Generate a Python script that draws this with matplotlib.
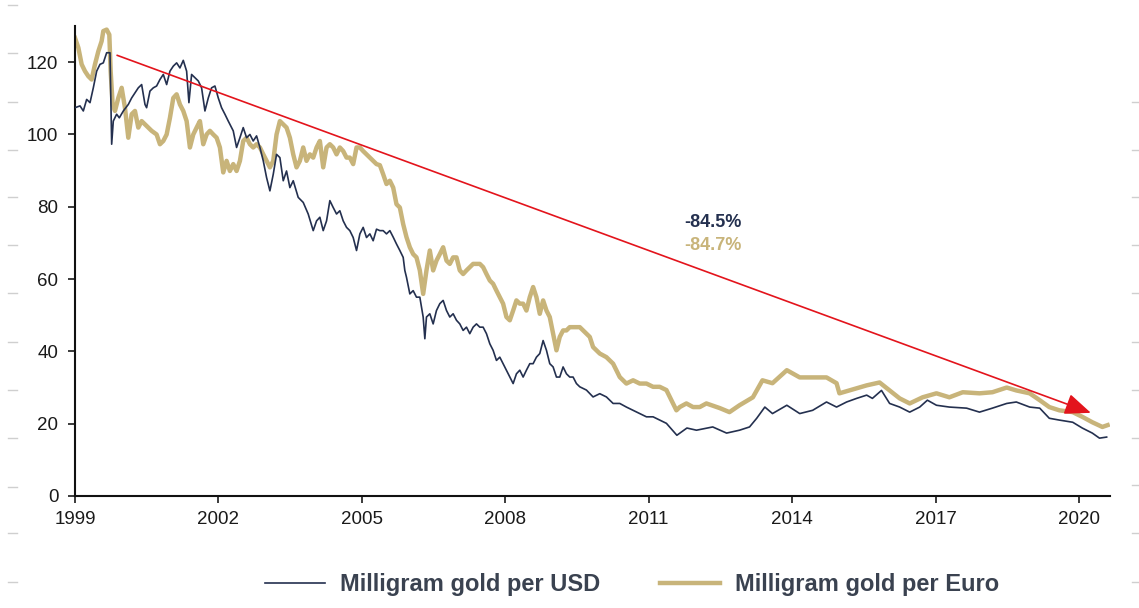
import matplotlib
matplotlib.use("Agg")
import matplotlib.pyplot as plt
from matplotlib.lines import Line2D

# ---- data: (decimal year, milligram of gold) ----
usd_points = [
    (1999.000, 107.4), (1999.105, 107.9), (1999.174, 106.5), (1999.244, 109.7), (1999.314, 108.8),
    (1999.383, 112.9), (1999.453, 117.5), (1999.523, 119.4), (1999.592, 119.8), (1999.662, 122.6),
    (1999.732, 122.6), (1999.767, 97.3), (1999.801, 103.7), (1999.871, 105.6), (1999.927, 104.6),
    (2000.011, 106.5), (2000.115, 108.3), (2000.185, 110.1), (2000.254, 111.5), (2000.324, 112.9),
    (2000.394, 113.8), (2000.464, 108.3), (2000.498, 107.4), (2000.568, 112.0), (2000.638, 112.9),
    (2000.707, 113.4), (2000.777, 115.2), (2000.847, 116.6), (2000.917, 113.8), (2000.986, 117.5),
    (2001.056, 118.9), (2001.126, 119.8), (2001.195, 118.4), (2001.265, 120.5), (2001.335, 117.5),
    (2001.383, 108.8), (2001.439, 116.6), (2001.509, 115.7), (2001.579, 114.8), (2001.648, 112.9),
    (2001.718, 106.5), (2001.788, 110.1), (2001.857, 112.9), (2001.927, 113.4), (2001.997, 110.1),
    (2002.066, 107.4), (2002.136, 105.6), (2002.206, 103.7), (2002.310, 101.0), (2002.380, 96.4),
    (2002.450, 99.1), (2002.519, 101.9), (2002.589, 99.1), (2002.659, 100.0), (2002.728, 98.2),
    (2002.798, 99.6), (2002.868, 96.4), (2002.938, 92.7), (2003.007, 88.1), (2003.077, 84.4),
    (2003.147, 89.0), (2003.216, 94.5), (2003.286, 93.6), (2003.356, 87.2), (2003.425, 89.9),
    (2003.495, 85.3), (2003.565, 87.2), (2003.669, 82.6), (2003.774, 81.2), (2003.878, 78.0),
    (2003.983, 73.4), (2004.053, 76.1), (2004.122, 77.1), (2004.192, 73.4), (2004.262, 76.1),
    (2004.331, 81.7), (2004.401, 79.8), (2004.471, 78.0), (2004.540, 78.9), (2004.610, 76.1),
    (2004.680, 74.3), (2004.749, 73.4), (2004.819, 71.5), (2004.889, 67.9), (2004.959, 72.5),
    (2005.028, 74.3), (2005.098, 71.5), (2005.168, 72.5), (2005.237, 70.6), (2005.307, 73.8),
    (2005.377, 73.4), (2005.446, 73.4), (2005.516, 72.5), (2005.586, 73.4), (2005.656, 71.6),
    (2005.725, 69.7), (2005.795, 67.9), (2005.865, 66.0), (2005.899, 62.4), (2005.934, 60.5),
    (2006.004, 55.9), (2006.074, 56.8), (2006.143, 55.0), (2006.213, 55.0), (2006.283, 49.5),
    (2006.318, 43.5), (2006.352, 49.5), (2006.422, 50.4), (2006.492, 47.6), (2006.561, 51.3),
    (2006.631, 53.2), (2006.701, 54.1), (2006.771, 51.3), (2006.840, 49.5), (2006.910, 50.4),
    (2006.980, 48.6), (2007.049, 47.6), (2007.119, 45.8), (2007.189, 46.7), (2007.258, 44.9),
    (2007.328, 46.7), (2007.398, 47.6), (2007.468, 46.7), (2007.537, 46.7), (2007.607, 44.9),
    (2007.677, 42.1), (2007.746, 40.3), (2007.816, 37.5), (2007.886, 38.4), (2007.955, 36.6),
    (2008.025, 34.8), (2008.095, 32.9), (2008.165, 31.1), (2008.234, 33.8), (2008.304, 34.8),
    (2008.374, 32.9), (2008.443, 34.8), (2008.513, 36.6), (2008.583, 36.6), (2008.652, 38.4),
    (2008.722, 39.4), (2008.792, 43.0), (2008.862, 40.3), (2008.931, 36.6), (2009.001, 35.7),
    (2009.071, 32.9), (2009.140, 32.9), (2009.210, 35.7), (2009.280, 33.8), (2009.349, 32.9),
    (2009.419, 32.9), (2009.489, 31.1), (2009.559, 30.2), (2009.698, 29.3), (2009.837, 27.4),
    (2009.977, 28.3), (2010.116, 27.4), (2010.256, 25.6), (2010.395, 25.6), (2010.534, 24.6),
    (2010.674, 23.7), (2010.813, 22.8), (2010.953, 21.9), (2011.092, 21.9), (2011.231, 21.0),
    (2011.371, 20.1), (2011.590, 16.8), (2011.800, 18.8), (2012.000, 18.2), (2012.340, 19.1),
    (2012.630, 17.4), (2012.900, 18.2), (2013.110, 19.1), (2013.260, 21.5), (2013.430, 24.6),
    (2013.590, 22.8), (2013.890, 25.1), (2014.160, 22.8), (2014.430, 23.7), (2014.720, 26.0),
    (2014.930, 24.6), (2015.140, 26.0), (2015.350, 27.0), (2015.560, 27.9), (2015.680, 27.0),
    (2015.870, 29.2), (2016.040, 25.6), (2016.250, 24.6), (2016.460, 23.2), (2016.670, 24.6),
    (2016.830, 26.5), (2017.020, 25.1), (2017.290, 24.6), (2017.650, 24.3), (2017.920, 23.2),
    (2018.190, 24.3), (2018.490, 25.6), (2018.690, 26.0), (2018.970, 24.6), (2019.180, 24.3),
    (2019.380, 21.5), (2019.590, 21.0), (2019.870, 20.4), (2020.070, 18.8), (2020.280, 17.4),
    (2020.430, 16.0), (2020.580, 16.3),
]

eur_points = [
    (1999.000, 126.7), (1999.070, 124.0), (1999.139, 119.4), (1999.209, 117.5), (1999.279, 116.1),
    (1999.348, 115.2), (1999.418, 119.4), (1999.488, 123.0), (1999.557, 125.8), (1999.592, 128.6),
    (1999.662, 129.0), (1999.718, 127.6), (1999.746, 117.5), (1999.787, 108.3), (1999.836, 106.5),
    (1999.906, 110.1), (1999.976, 112.9), (2000.045, 107.4), (2000.115, 99.1), (2000.185, 105.6),
    (2000.254, 106.5), (2000.324, 101.9), (2000.394, 103.7), (2000.464, 102.8), (2000.533, 101.9),
    (2000.603, 101.0), (2000.707, 100.0), (2000.777, 97.3), (2000.847, 98.2), (2000.917, 100.0),
    (2000.986, 104.6), (2001.056, 110.1), (2001.126, 111.1), (2001.195, 108.3), (2001.265, 106.5),
    (2001.335, 103.7), (2001.404, 96.4), (2001.474, 100.0), (2001.544, 101.9), (2001.613, 103.7),
    (2001.683, 97.3), (2001.753, 100.0), (2001.822, 101.0), (2001.892, 100.0), (2001.962, 99.1),
    (2002.031, 96.4), (2002.101, 89.5), (2002.171, 92.7), (2002.240, 89.9), (2002.310, 91.8),
    (2002.380, 89.9), (2002.450, 92.7), (2002.519, 98.2), (2002.589, 99.1), (2002.659, 97.3),
    (2002.728, 96.4), (2002.798, 97.3), (2002.868, 96.4), (2002.938, 94.5), (2003.007, 92.7),
    (2003.077, 90.9), (2003.147, 92.7), (2003.216, 100.0), (2003.286, 103.7), (2003.356, 102.8),
    (2003.425, 101.9), (2003.495, 99.1), (2003.565, 94.5), (2003.634, 90.9), (2003.704, 92.7),
    (2003.774, 96.4), (2003.843, 92.7), (2003.913, 94.5), (2003.983, 93.6), (2004.053, 96.4),
    (2004.122, 98.2), (2004.192, 90.9), (2004.262, 96.4), (2004.331, 97.3), (2004.401, 96.4),
    (2004.471, 94.5), (2004.540, 96.4), (2004.610, 95.4), (2004.680, 93.6), (2004.749, 93.6),
    (2004.819, 91.8), (2004.889, 96.4), (2004.959, 96.4), (2005.028, 95.4), (2005.098, 94.5),
    (2005.168, 93.6), (2005.237, 92.7), (2005.307, 91.8), (2005.377, 91.5), (2005.446, 89.0),
    (2005.516, 86.3), (2005.586, 87.2), (2005.656, 85.3), (2005.725, 80.7), (2005.795, 79.8),
    (2005.865, 75.2), (2005.934, 71.6), (2006.004, 68.8), (2006.074, 66.9), (2006.143, 66.0),
    (2006.213, 62.4), (2006.283, 55.9), (2006.352, 62.4), (2006.422, 67.9), (2006.492, 62.4),
    (2006.561, 65.1), (2006.631, 66.9), (2006.701, 68.8), (2006.771, 65.1), (2006.840, 64.2),
    (2006.910, 66.0), (2006.980, 66.0), (2007.049, 62.4), (2007.119, 61.4), (2007.189, 62.4),
    (2007.258, 63.3), (2007.328, 64.2), (2007.398, 64.2), (2007.468, 64.2), (2007.537, 63.3),
    (2007.607, 61.4), (2007.677, 59.6), (2007.746, 58.7), (2007.816, 56.8), (2007.886, 55.0),
    (2007.955, 53.2), (2008.025, 49.5), (2008.095, 48.6), (2008.165, 51.3), (2008.234, 54.1),
    (2008.304, 53.2), (2008.374, 53.2), (2008.443, 51.3), (2008.513, 55.0), (2008.583, 57.8),
    (2008.652, 55.0), (2008.722, 50.4), (2008.792, 54.1), (2008.862, 51.3), (2008.931, 49.5),
    (2009.001, 44.9), (2009.071, 40.3), (2009.140, 44.0), (2009.210, 45.8), (2009.280, 45.8),
    (2009.349, 46.7), (2009.419, 46.7), (2009.489, 46.7), (2009.559, 46.7), (2009.628, 45.8),
    (2009.698, 44.9), (2009.768, 44.0), (2009.837, 41.2), (2009.907, 40.3), (2009.977, 39.4),
    (2010.116, 38.4), (2010.256, 36.6), (2010.395, 32.9), (2010.534, 31.1), (2010.674, 32.0),
    (2010.813, 31.1), (2010.953, 31.1), (2011.092, 30.2), (2011.231, 30.2), (2011.371, 29.3),
    (2011.510, 25.6), (2011.580, 23.7), (2011.650, 24.6), (2011.789, 25.6), (2011.928, 24.6),
    (2012.068, 24.6), (2012.207, 25.6), (2012.490, 24.3), (2012.690, 23.2), (2012.900, 25.1),
    (2013.180, 27.3), (2013.380, 32.0), (2013.590, 31.2), (2013.890, 34.8), (2014.160, 32.8),
    (2014.430, 32.8), (2014.720, 32.8), (2014.930, 31.2), (2014.990, 28.4), (2015.200, 29.2),
    (2015.410, 30.0), (2015.560, 30.6), (2015.830, 31.4), (2016.040, 29.2), (2016.250, 27.0),
    (2016.460, 25.6), (2016.730, 27.3), (2017.020, 28.4), (2017.290, 27.3), (2017.570, 28.7),
    (2017.920, 28.4), (2018.190, 28.7), (2018.490, 30.0), (2018.690, 29.2), (2018.970, 28.4),
    (2019.180, 26.5), (2019.380, 24.6), (2019.590, 23.7), (2019.870, 23.2), (2020.070, 21.9),
    (2020.280, 20.4), (2020.490, 19.1), (2020.600, 19.6),
]

usd_years = [p[0] for p in usd_points]
usd_values = [p[1] for p in usd_points]
eur_years = [p[0] for p in eur_points]
eur_values = [p[1] for p in eur_points]

x_ticks = [1999, 2002, 2005, 2008, 2011, 2014, 2017, 2020]
y_ticks = [0, 20, 40, 60, 80, 100, 120]
arrow_start = (1999.88, 121.9)
arrow_end = (2020.25, 23.0)
labels = ["Milligram gold per USD", "Milligram gold per Euro"]
change_labels = ["-84.5%", "-84.7%"]

NAVY = "#24304f"
GOLD = "#c8b47a"
RED = "#e3141c"

plt.rcParams['font.family'] = ['Liberation Sans', 'DejaVu Sans']

fig = plt.figure(figsize=(11.39, 6.08), dpi=100)
ax = fig.add_axes([75/1139, 1-496/608, (1110-75)/1139, (496-26)/608])

ax.plot(eur_years, eur_values, color=GOLD, lw=3.2, solid_joinstyle='round', zorder=2)
ax.plot(usd_years, usd_values, color=NAVY, lw=1.2, zorder=3)

ax.annotate("", xy=arrow_end, xytext=arrow_start,
            arrowprops=dict(arrowstyle="-|>,head_length=1.6,head_width=0.65",
                            color=RED, lw=1.2, shrinkA=0, shrinkB=0), zorder=4)

ax.text(2012.34, 75.6, change_labels[0], color=NAVY, fontsize=13, fontweight='bold',
        ha='center', va='center')
ax.text(2012.34, 69.3, change_labels[1], color=GOLD, fontsize=13, fontweight='bold',
        ha='center', va='center')

ax.set_xlim(1999, 2020.65)
ax.set_ylim(0, 130)
ax.set_xticks(x_ticks)
ax.set_yticks(y_ticks)
for s in ['top', 'right']:
    ax.spines[s].set_visible(False)
for s in ['left', 'bottom']:
    ax.spines[s].set_linewidth(1.5)
    ax.spines[s].set_color('#111111')
ax.tick_params(direction='out', length=5, width=1.2, labelsize=13.5, colors='#1a1a1a')
ax.tick_params(axis='y', pad=7)
ax.tick_params(axis='x', pad=6)

handles = [Line2D([], [], color=NAVY, lw=1.2), Line2D([], [], color=GOLD, lw=3.2)]
leg = fig.legend(handles, labels, loc='center', bbox_to_anchor=(0.555, 0.038), ncol=2,
                 frameon=False, handlelength=2.55, columnspacing=2.5, handletextpad=0.64,
                 prop={'family': ['Liberation Sans Narrow', 'Liberation Sans'],
                       'weight': 'bold', 'size': 17})
for t in leg.get_texts():
    t.set_color('#3a4250')

# faint edge dashes seen on the reference
for yp in [5, 53, 102, 150, 197, 245, 293, 342, 390, 438, 487, 533, 582]:
    fig.add_artist(Line2D([8/1139, 17/1139], [1-yp/608, 1-yp/608], color='#cfcfcf', lw=1))
for yp in [102, 150, 197, 245, 293, 342, 390, 438, 485, 533, 582]:
    fig.add_artist(Line2D([1132/1139, 1139/1139], [1-yp/608, 1-yp/608], color='#cfcfcf', lw=1))

fig.savefig("out.png", dpi=100)
